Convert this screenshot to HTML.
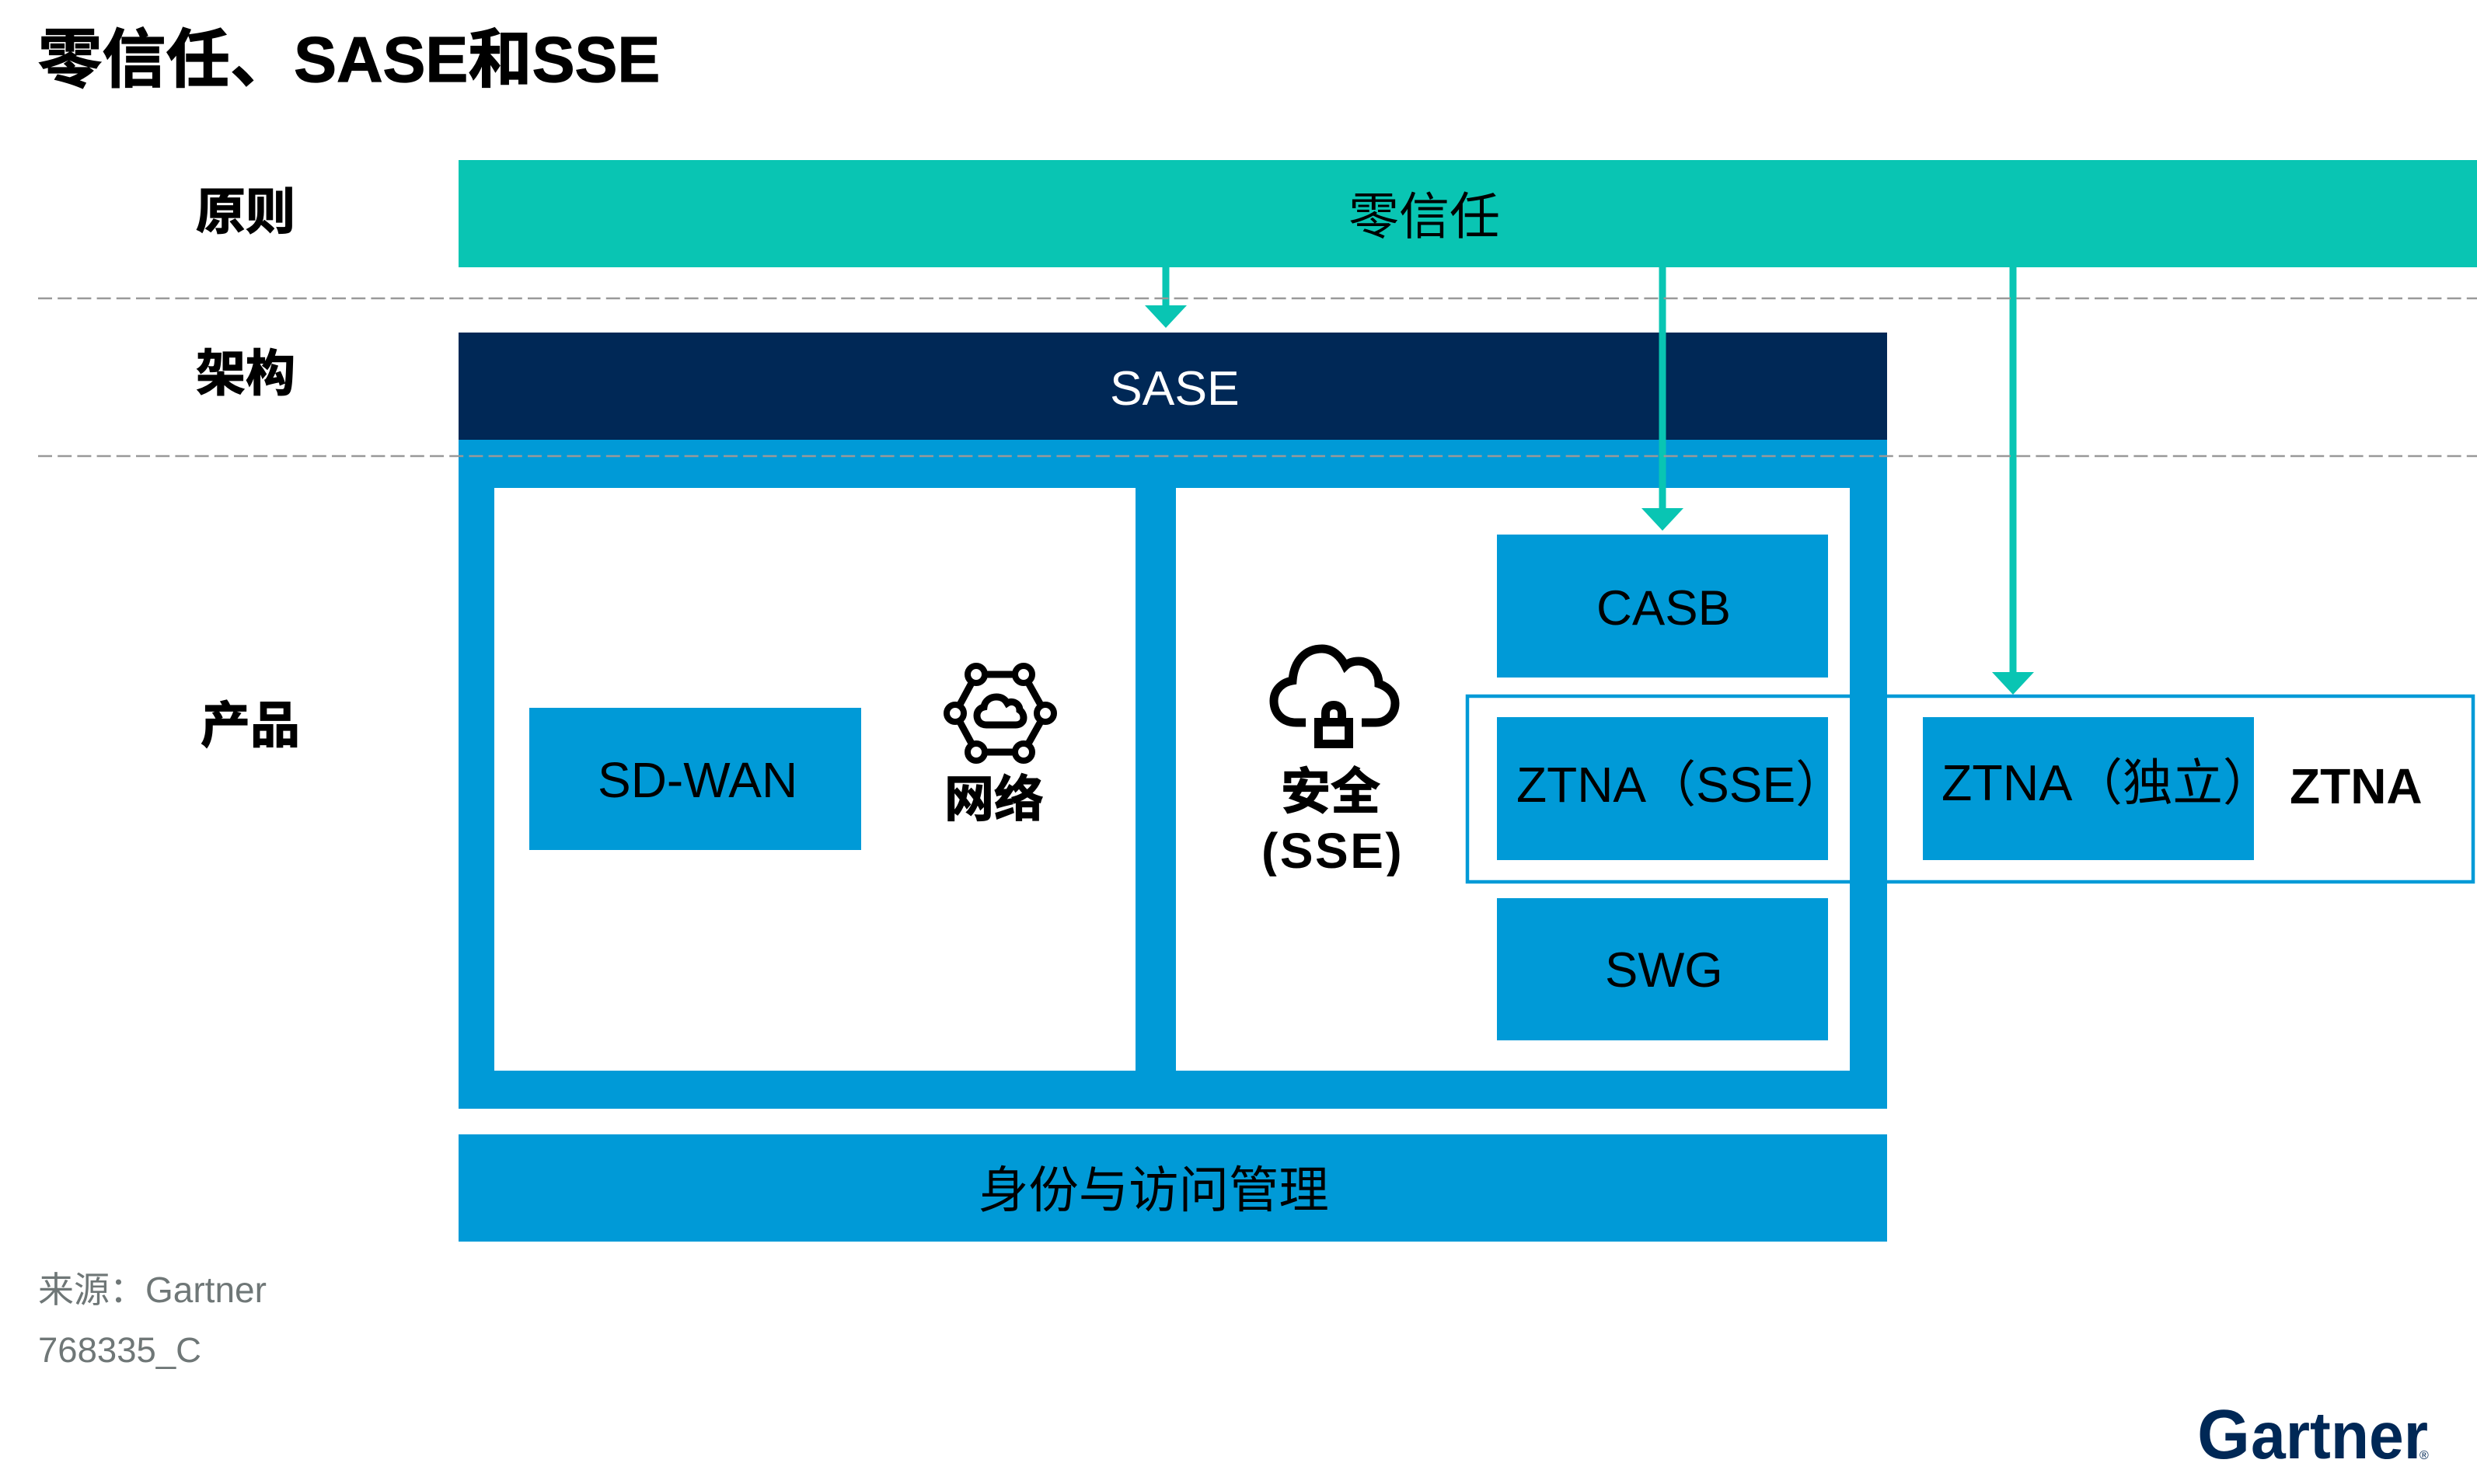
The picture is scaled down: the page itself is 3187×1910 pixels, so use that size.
<!DOCTYPE html>
<html lang="zh">
<head>
<meta charset="utf-8">
<title>零信任、SASE和SSE</title>
<style>
html,body{margin:0;padding:0;background:#fff;width:3187px;height:1910px;overflow:hidden}
svg{display:block}
text{font-family:"Liberation Sans","Noto Sans CJK SC",sans-serif;fill:#000}
.b{font-weight:700}
.h{stroke:#000;stroke-width:1.2}
</style>
</head>
<body>
<svg xmlns="http://www.w3.org/2000/svg" width="3187" height="1910" viewBox="0 0 3187 1910">
<rect width="3187" height="1910" fill="#fff"/>

<!-- bands -->
<rect x="590" y="206" width="2597" height="138" fill="#09c5b3"/>
<rect x="590" y="428" width="1838" height="138" fill="#002856"/>

<!-- ZTNA outline, right part -->
<path d="M2380 896H3182V1135H2380" fill="none" stroke="#009ad7" stroke-width="4.5"/>

<!-- blue frame -->
<path fill-rule="evenodd" fill="#009ad7" d="M590 566H2428V1427H590Z M636 628V1378H1461V628Z M1513 628V1378H2380V628Z"/>
<!-- ZTNA outline, left part -->
<path d="M2380 896H1888V1135H2380" stroke="#009ad7" stroke-width="4.5" fill="none"/>
<rect x="590" y="1460" width="1838" height="138" fill="#009ad7"/>

<!-- boxes -->
<rect x="681" y="911" width="427" height="183" fill="#009ad7"/>
<rect x="1926" y="688" width="426" height="184" fill="#009ad7"/>
<rect x="1926" y="923" width="426" height="184" fill="#009ad7"/>
<rect x="1926" y="1156" width="426" height="183" fill="#009ad7"/>
<rect x="2474" y="923" width="426" height="184" fill="#009ad7"/>

<!-- arrows -->
<g fill="#09c5b3">
<rect x="1495.5" y="344" width="9" height="50"/>
<path d="M1473 393H1527L1500 422Z"/>
<rect x="2134.5" y="344" width="9" height="311"/>
<path d="M2112 654H2166L2139 683Z"/>
<rect x="2585.5" y="344" width="9" height="522"/>
<path d="M2563 865H2617L2590 894Z"/>
</g>

<!-- dashed rules -->
<g stroke="#999" stroke-width="2.5" stroke-dasharray="18 7.2" fill="none">
<path d="M49 384H3187"/>
<path d="M49 587H3187"/>
</g>

<!-- title and row labels -->
<text x="49" y="105" class="b h" font-size="82.3">零信任、SASE和SSE</text>
<text x="252" y="295" class="b h" font-size="64">原则</text>
<text x="252" y="503" class="b h" font-size="64">架构</text>
<text x="258" y="956" class="b h" font-size="64">产品</text>

<!-- band labels -->
<text x="1735" y="301" font-size="65">零信任</text>
<text x="1428" y="521" font-size="62.5" style="fill:#fff">SASE</text>
<text x="1259" y="1554" font-size="64.4">身份与访问管理</text>

<!-- box labels -->
<text x="769" y="1026" font-size="64">SD-WAN</text>
<text x="2054" y="804" font-size="63.5">CASB</text>
<text x="1951" y="1032" font-size="64">ZTNA（SSE）</text>
<text x="2065" y="1270" font-size="63.5">SWG</text>
<text x="2498" y="1030" font-size="64.5">ZTNA（独立）</text>
<text x="2946" y="1034" class="b" font-size="64">ZTNA</text>

<!-- network icon -->
<g fill="none" stroke="#000">
<path d="M1256 868H1317M1317 868L1345 918L1317 968M1317 968H1256M1256 968L1229 918L1256 868" stroke-width="9"/>
<g fill="#fff" stroke-width="8">
<circle cx="1256" cy="868" r="11"/>
<circle cx="1317" cy="868" r="11"/>
<circle cx="1229" cy="918" r="11"/>
<circle cx="1345" cy="918" r="11"/>
<circle cx="1256" cy="968" r="11"/>
<circle cx="1317" cy="968" r="11"/>
</g>
<path stroke-width="9" d="M1269 933C1261 933 1257 927 1257 921C1257 915 1261 911 1266 910C1267 902 1274 897 1282 897C1289 897 1293 900 1296 905C1299 903 1302 903 1305 904C1310 906 1312 910 1312 914C1315 916 1317 920 1317 924C1317 930 1312 933 1307 933Z"/>
</g>
<text x="1215" y="1051" class="b h" font-size="64">网络</text>

<!-- security icon -->
<g fill="none" stroke="#000" stroke-width="11">
<path d="M1680 930H1668C1650 930 1639 918 1639 902C1639 888 1650 878 1663 876C1665 850 1680 835 1701 835C1715 835 1725 845 1731 857C1736 852 1742 851 1748 851C1762 851 1774 864 1774 880C1786 884 1795 893 1795 905C1795 920 1784 930 1770 930H1752"/>
<rect x="1696.5" y="929.5" width="39" height="28"/>
<path d="M1705.5 929V918C1705.5 911 1710 907.5 1716 907.5C1722 907.5 1726.5 911 1726.5 918V929"/>
</g>
<text x="1648" y="1041" class="b h" font-size="64">安全</text>
<text x="1623" y="1117" class="b" font-size="64" letter-spacing="2.5">(SSE)</text>
<rect x="1615" y="1128" width="195" height="10" fill="#fff"/>

<!-- footer -->
<text x="49" y="1676" font-size="46" style="fill:#6f7777">来源：Gartner</text>
<text x="49" y="1753" font-size="45.5" style="fill:#6f7777">768335_C</text>

<!-- logo -->
<text x="2827" y="1877" class="b" font-size="90" textLength="68" lengthAdjust="spacingAndGlyphs" style="fill:#002856">G</text>
<text x="2896" y="1877" class="b" font-size="85" textLength="228" lengthAdjust="spacingAndGlyphs" style="fill:#002856">artner</text>
<text x="3113" y="1878" font-size="16" style="fill:#002856">®</text>
</svg>
</body>
</html>
